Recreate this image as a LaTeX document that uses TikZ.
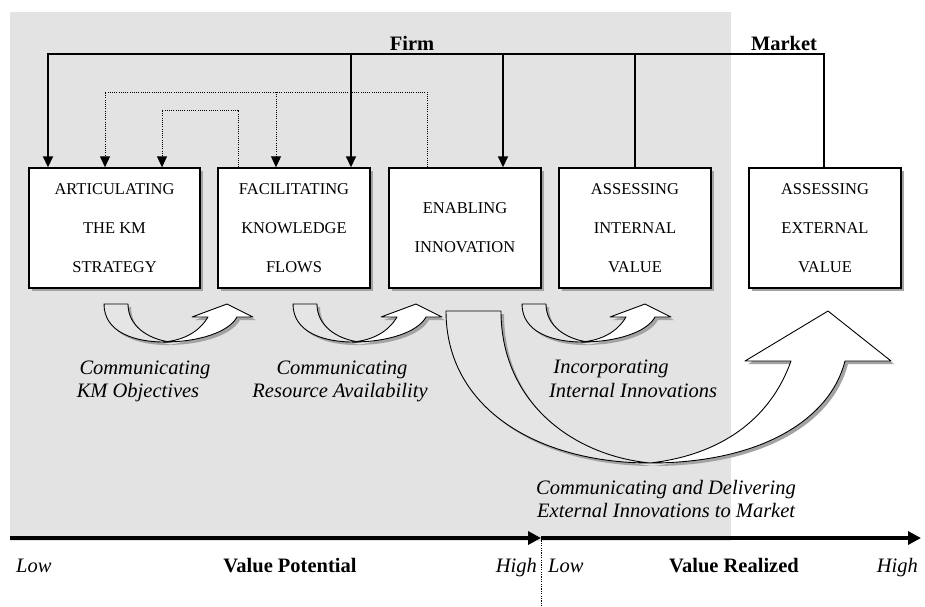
\documentclass[tikz,border=0pt]{standalone}
\usepackage{fontspec}
\setmainfont{Liberation Serif}
\usetikzlibrary{arrows.meta,shadows,calc}
\definecolor{bggray}{HTML}{E3E3E3}
\definecolor{backgray}{HTML}{E5E5E5}
\definecolor{shgray}{HTML}{A3A3A3}
\begin{document}
\begin{tikzpicture}[x=1pt,y=-1pt,
  shad/.style={drop shadow={shadow xshift=3pt,shadow yshift=-3pt,fill=shgray,opacity=1}},
  kmbox/.style={draw,line width=1.4pt,fill=white,shad,align=center,inner sep=0pt,
    font=\fontsize{16.5}{39}\selectfont,minimum height=120pt,minimum width=152pt},
  conn/.style={line width=1.6pt},
  tipa/.style={-{Triangle[width=10pt,length=11pt]}},
  dotl/.style={line width=0.9pt,dash pattern=on 1pt off 1.2pt},
  lab/.style={font=\fontsize{20.5}{24}\selectfont\itshape,anchor=base,inner sep=0pt},
  blab/.style={font=\fontsize{20.5}{24}\selectfont\bfseries,anchor=base,inner sep=0pt},
  band/.style={draw,line width=0.9pt,line join=round,shad},
  axisl/.style={line width=4.5pt,-{Triangle[width=13pt,length=13pt]}}
]
\useasboundingbox (0,0) rectangle (925,606);
\fill[bggray] (10,12) rectangle (731,541);

% boxes
\node[kmbox,minimum width=171pt] (b1) at (114.5,228) {ARTICULATING\\THE KM\\STRATEGY};
\node[kmbox] (b2) at (294,228) {FACILITATING\\KNOWLEDGE\\FLOWS};
\node[kmbox] (b3) at (465,228) {ENABLING\\INNOVATION};
\node[kmbox] (b4) at (635,228) {ASSESSING\\INTERNAL\\VALUE};
\node[kmbox] (b5) at (825,228) {ASSESSING\\EXTERNAL\\VALUE};

% labels Firm / Market
\node[blab] (firm) at (412,50.5) {Firm};
\node[blab] (market) at (784,50.5) {Market};

% solid connectors
\coordinate (tL) at (48,54);
\coordinate (tR) at (824,54);
\coordinate (t2) at (351,54);
\coordinate (t3) at (503,54);
\coordinate (t4) at (635,54);
\draw[conn,tipa] (b5.north -| tR) -- (tR) -- (tL) -- (tL |- b1.north);
\draw[conn,tipa] (t2) -- (t2 |- b2.north);
\draw[conn,tipa] (t3) -- (t3 |- b3.north);
\draw[conn] (b4.north -| t4) -- (t4);

% dotted connectors
\coordinate (d1) at (427,92);
\coordinate (d2) at (105,92);
\coordinate (d3) at (276,92);
\coordinate (e1) at (238,110);
\coordinate (e2) at (162,110);
\draw[dotl,tipa] (b3.north -| d1) -- (d1) -- (d2) -- (d2 |- b1.north);
\draw[dotl,tipa] (d3) -- (d3 |- b2.north);
\draw[dotl,tipa] (b2.north -| e1) -- (e1) -- (e2) -- (e2 |- b1.north);

% big curved arrow
\path[band,fill=backgray] (446,311) -- (501,311) .. controls (501,400) and (570,455) .. (650,463)
   .. controls (540,463) and (446,410) .. (446,311) -- cycle;
\path[band,fill=white] (650,463) .. controls (760,463) and (830,420) .. (845,361) -- (891,361)
   -- (828,311) -- (745,361) -- (791,361) .. controls (770,420) and (720,455) .. (650,463) -- cycle;

% small curved arrows
\foreach \xo in {104,293,522} {
 \begin{scope}[shift={(\xo,0)}]
  \path[band,fill=backgray] (0,304) -- (24,304) .. controls (24,326) and (44,339) .. (66,342)
     .. controls (30,343) and (0,332) .. (0,304) -- cycle;
  \path[band,fill=white] (60,342) .. controls (95,342) and (125,332) .. (133,317) -- (149,317)
     -- (123,304) -- (88,317) -- (104,317) .. controls (95,332) and (80,340) .. (60,342) -- cycle;
 \end{scope}}

% arrow labels
\node[lab] (l1a) at (145,374) {Communicating};
\node[lab] (l1b) at (138,397) {KM Objectives};
\node[lab] (l2a) at (342,374) {Communicating};
\node[lab] (l2b) at (340,397) {Resource Availability};
\node[lab] (l3a) at (611,373) {Incorporating};
\node[lab] (l3b) at (633,397) {Internal Innovations};
\node[lab,anchor=base west] (l4a) at (536,494) {Communicating and Delivering};
\node[lab,anchor=base west] (l4b) at (537,517) {External Innovations to Market};

% axis
\coordinate (a0) at (10,538);
\coordinate (am) at (541,538);
\coordinate (a1) at (921,538);
\coordinate (abot) at (541,606);
\draw[axisl] (a0) -- (am);
\draw[axisl] (am) -- (a1);
\draw[line width=1pt,dash pattern=on 1.2pt off 1.2pt] (am) -- (abot);

\node[lab,anchor=base west] (low1) at (16,572) {Low};
\node[blab] (vp) at (290,572) {Value Potential};
\node[lab,anchor=base east] (high1) at (537,572) {High};
\node[lab,anchor=base west] (low2) at (548,572) {Low};
\node[blab] (vr) at (734,572) {Value Realized};
\node[lab,anchor=base east] (high2) at (918,572) {High};
\end{tikzpicture}
\end{document}
